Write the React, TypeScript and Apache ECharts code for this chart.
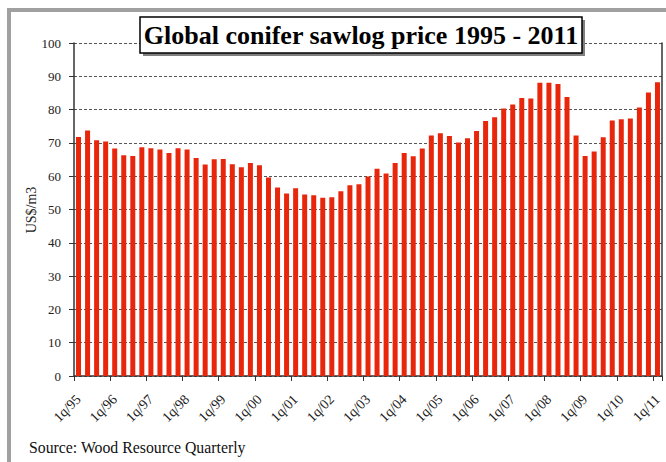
import React, { useEffect, useRef } from "react";
import * as echarts from "echarts";

const years = ["95","96","97","98","99","00","01","02","03","04","05","06","07","08","09","10","11"];
const quarters = ["1q","2q","3q","4q"];
const categories: string[] = [];
years.forEach((y, i) => {
  quarters.forEach((q, j) => {
    if (i < years.length - 1 || j === 0) categories.push(q + "/" + y);
  });
});

const prices = [
  71.8, 73.7, 70.8, 70.4, 68.3, 66.3, 66.1, 68.7, 68.4, 68.0, 67.0, 68.4, 68.0, 65.5, 63.5, 65.1,
  65.2, 63.6, 62.7, 64.0, 63.3, 59.6, 56.6, 54.8, 56.4, 54.5, 54.3, 53.5, 53.7, 55.5, 57.3, 57.6, 59.9,
  62.2, 60.8, 64.0, 67.0, 66.0, 68.3, 72.2, 72.9, 72.1, 70.1, 71.4, 73.6, 76.6, 77.7, 80.3, 81.5,
  83.5, 83.3, 88.1, 88.1, 87.7, 83.8, 72.2, 66.1, 67.4, 71.7, 76.7, 77.1, 77.3, 80.6, 85.1, 88.2,
];

const titleText = "Global conifer sawlog price 1995 - 2011";
const sourceText = "Source: Wood Resource Quarterly";
const yName = "US$/m3";

const FONT = "'Liberation Serif', 'Times New Roman', serif";

export default function App() {
  const ref = useRef<HTMLDivElement>(null);
  useEffect(() => {
    if (!ref.current) return;
    const chart = echarts.init(ref.current, undefined, { renderer: "svg" });
    chart.setOption({
      animation: false,
      backgroundColor: "#ffffff",
      grid: { left: 74, right: 4, top: 43, bottom: 86, containLabel: false },
      xAxis: {
        type: "category",
        data: categories,
        boundaryGap: true,
        axisLine: { show: true, lineStyle: { color: "#333", width: 1.5 } },
        axisTick: { show: true, interval: 3, length: 5, lineStyle: { color: "#333" } },
        axisLabel: {
          interval: 3,
          rotate: 45,
          margin: 21,
          fontFamily: FONT,
          fontSize: 14,
          color: "#222",
        },
        splitLine: { show: false },
      },
      yAxis: [
        {
          type: "value",
          min: 0,
          max: 100,
          interval: 10,
          axisLine: { show: true, lineStyle: { color: "#333", width: 1.5 } },
          axisTick: { show: true, length: 5, lineStyle: { color: "#333" } },
          axisLabel: { margin: 13, fontFamily: FONT, fontSize: 13, color: "#222" },
          splitLine: { show: true, lineStyle: { color: "#555", type: [3, 2], width: 1 } },
        },
        {
          type: "value",
          min: 0,
          max: 100,
          interval: 10,
          position: "right",
          axisLine: { show: true, lineStyle: { color: "#333", width: 1.5 } },
          axisTick: { show: false },
          axisLabel: { show: false },
          splitLine: { show: false },
        },
      ],
      series: [
        {
          type: "bar",
          data: prices,
          barWidth: 5,
          itemStyle: { color: "#e8260c" },
        },
      ],
      graphic: [
        { type: "rect", shape: { x: 7, y: 8, width: 659, height: 4 }, style: { fill: "#a0a0a0" }, z: 100 },
        { type: "rect", shape: { x: 7, y: 8, width: 4, height: 454 }, style: { fill: "#a0a0a0" }, z: 100 },
        { type: "rect", shape: { x: 143, y: 20, width: 442, height: 36 }, style: { fill: "#808080" }, z: 100 },
        { type: "rect", shape: { x: 140, y: 17, width: 442, height: 36 }, style: { fill: "#ffffff", stroke: "#000", lineWidth: 1.5 }, z: 101 },
        {
          type: "text",
          x: 361,
          y: 35.5,
          style: {
            text: titleText,
            fontFamily: FONT,
            fontSize: 26,
            fontWeight: "bold",
            fill: "#000",
            align: "center",
            verticalAlign: "middle",
          },
          z: 102,
        },
        {
          type: "text",
          x: 31,
          y: 210,
          rotation: Math.PI / 2,
          style: {
            text: yName,
            fontFamily: FONT,
            fontSize: 14,
            fill: "#222",
            align: "center",
            verticalAlign: "middle",
          },
          z: 102,
        },
        {
          type: "text",
          x: 29,
          y: 447,
          style: {
            text: sourceText,
            fontFamily: FONT,
            fontSize: 15.8,
            fill: "#111",
            align: "left",
            verticalAlign: "middle",
          },
          z: 102,
        },
      ],
    });
    return () => chart.dispose();
  }, []);
  return <div ref={ref} style={{ position: "fixed", left: 0, top: 0, width: 666, height: 462 }} />;
}
